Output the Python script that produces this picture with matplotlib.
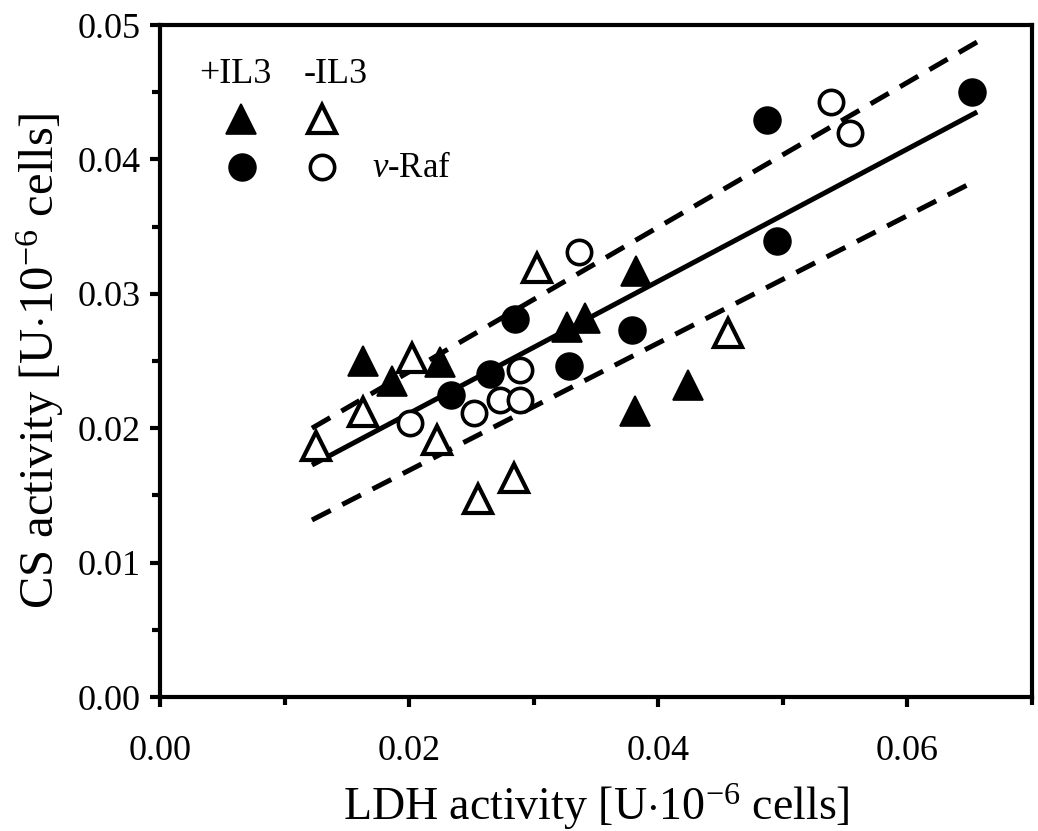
import matplotlib
matplotlib.use("Agg")
import matplotlib.pyplot as plt
from matplotlib.ticker import MultipleLocator, FormatStrFormatter

plt.rcParams['font.family'] = ['Liberation Serif', 'DejaVu Serif']
plt.rcParams['mathtext.fontset'] = 'custom'
plt.rcParams['mathtext.rm'] = 'Liberation Serif'
plt.rcParams['mathtext.it'] = 'Liberation Serif:italic'

# +IL3 (filled triangles)
plus_il3_x = [0.0163, 0.0186, 0.0225, 0.0327, 0.0341, 0.0382, 0.0381, 0.0424]
plus_il3_y = [0.0250, 0.0235, 0.0249, 0.0275, 0.0282, 0.0317, 0.0213, 0.0232]
# -IL3 (open triangles)
minus_il3_x = [0.0125, 0.0163, 0.0202, 0.0222, 0.0255, 0.0284, 0.0303, 0.0456]
minus_il3_y = [0.0187, 0.0212, 0.0252, 0.0191, 0.0147, 0.0163, 0.0319, 0.0271]
# v-Raf +IL3 (filled circles)
raf_plus_x = [0.0234, 0.0265, 0.0285, 0.0328, 0.0379, 0.0487, 0.0495, 0.0652]
raf_plus_y = [0.0225, 0.0240, 0.0281, 0.0246, 0.0273, 0.0429, 0.0339, 0.0450]
# v-Raf -IL3 (open circles)
raf_minus_x = [0.0201, 0.0252, 0.0273, 0.0289, 0.0289, 0.0336, 0.0539, 0.0554]
raf_minus_y = [0.0204, 0.0211, 0.0221, 0.0221, 0.0243, 0.0331, 0.0443, 0.0420]

# regression line and confidence band end points
fit_x = [0.0122, 0.0656]
fit_y = [0.01726, 0.04353]
upper_y = [0.0200, 0.04874]
lower_y = [0.01317, 0.03847]

x_ticks = [0.00, 0.02, 0.04, 0.06]
y_ticks = [0.00, 0.01, 0.02, 0.03, 0.04, 0.05]

fig = plt.figure(figsize=(10.38, 8.31), dpi=100)
ax = fig.add_axes([160/1038, 1-697/831, 872/1038, 672/831])

ax.plot(fit_x, fit_y, color='black', lw=3.6, solid_capstyle='butt', zorder=2)
for yy in (upper_y, lower_y):
    ax.plot(fit_x, yy, color='black', lw=3.6, dashes=(4.2, 2.6), dash_capstyle='butt', zorder=2)

ax.plot(plus_il3_x, plus_il3_y, ls='none', marker='^', ms=22, mfc='black', mec='black', mew=1.2, zorder=3)
ax.plot(minus_il3_x, minus_il3_y, ls='none', marker='^', ms=19.5, mfc='white', mec='black', mew=3.0, zorder=3)
ax.plot(raf_plus_x, raf_plus_y, ls='none', marker='o', ms=19.5, mfc='black', mec='black', mew=1.0, zorder=3)
ax.plot(raf_minus_x, raf_minus_y, ls='none', marker='o', ms=17.5, mfc='white', mec='black', mew=2.6, zorder=3)

# legend drawn by hand
tr = ax.transAxes
ax.text(0.087, 0.927, '+IL3', transform=tr, ha='center', va='center', fontsize=26)
ax.text(0.202, 0.927, '-IL3', transform=tr, ha='center', va='center', fontsize=26)
ax.plot([0.093], [0.860], transform=tr, marker='^', ms=22, mfc='black', mec='black', mew=1.2, clip_on=False)
ax.plot([0.186], [0.860], transform=tr, marker='^', ms=19.5, mfc='white', mec='black', mew=3.0, clip_on=False)
ax.plot([0.094], [0.789], transform=tr, marker='o', ms=19.5, mfc='black', mec='black', mew=1.0, clip_on=False)
ax.plot([0.186], [0.789], transform=tr, marker='o', ms=17.5, mfc='white', mec='black', mew=2.6, clip_on=False)
ax.text(0.243, 0.786, r'$\mathit{v}$-Raf', transform=tr, ha='left', va='center', fontsize=25)

ax.set_xlim(0, 0.07)
ax.set_ylim(0, 0.05)
ax.set_xticks(x_ticks)
ax.set_yticks(y_ticks)
ax.xaxis.set_minor_locator(MultipleLocator(0.01))
ax.yaxis.set_minor_locator(MultipleLocator(0.005))
ax.xaxis.set_major_formatter(FormatStrFormatter('%.2f'))
ax.yaxis.set_major_formatter(FormatStrFormatter('%.2f'))

for s in ax.spines.values():
    s.set_linewidth(3)
ax.tick_params(which='major', direction='out', length=7, width=3, labelsize=26, pad=20)
ax.tick_params(axis='y', which='major', pad=7)
ax.tick_params(which='minor', direction='out', length=6, width=3)
ax.tick_params(top=False, right=False, which='both')

ax.set_xlabel(r'LDH activity [U$\cdot$10$^{-6}$ cells]', fontsize=33, labelpad=10)
ax.set_ylabel(r'CS activity [U$\cdot$10$^{-6}$ cells]', fontsize=35, labelpad=8)

fig.savefig('out.png', dpi=100)
